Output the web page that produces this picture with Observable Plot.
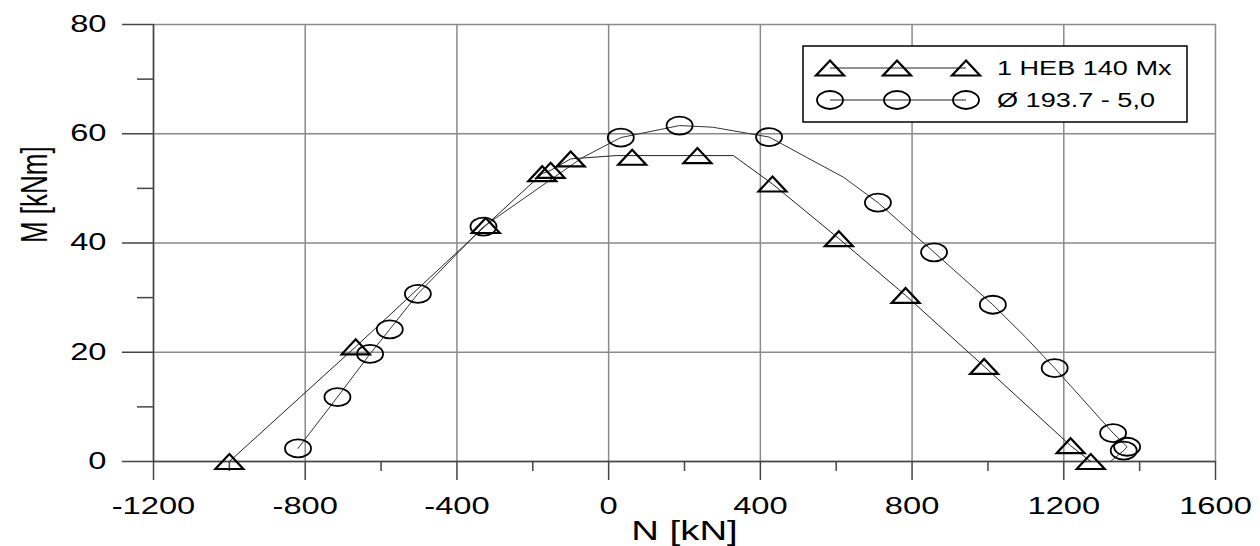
<!DOCTYPE html>
<html>
<head>
<meta charset="utf-8">
<script src="https://cdn.jsdelivr.net/npm/d3@7"></script>
<script src="https://cdn.jsdelivr.net/npm/@observablehq/plot@0.6"></script>
<style>
  html, body { margin: 0; padding: 0; background: #fff; }
  #wrap { position: relative; width: 1260px; height: 546px; font-family: "Liberation Sans", Arial, sans-serif; color: #000; }
  #legend { position: absolute; left: 802px; top: 45px; }
</style>
</head>
<body>
<div id="wrap"></div>
<script>
// ---- axis ticks ----
const xDomain = [-1200, 1600];
const yDomain = [0, 80];
const xTicks = [-1200, -800, -400, 0, 400, 800, 1200, 1600];
const xMinor = [-1000, -600, -200, 200, 600, 1000, 1400];
const yTicks = [0, 20, 40, 60, 80];
const yMinor = [10, 30, 50, 70];
const xGrid = [-800, -400, 0, 400, 800, 1200];
const yGrid = [20, 40, 60];
const xLabel = "N [kN]";
const yLabel = "M [kNm]";
const seriesNames = ["1 HEB 140 Mx", "Ø 193.7 - 5,0"];

// ---- 1 HEB 140 Mx : markers ----
const hebMarkN = [-1000, -667, -324, -175, -153, -100, 62, 234, 432, 607, 783, 990, 1218, 1271];
const hebMarkM = [0, 21.0, 43.2, 52.7, 53.3, 55.4, 55.7, 56.0, 50.8, 40.8, 30.4, 17.4, 2.9, 0];
// ---- 1 HEB 140 Mx : interaction curve ----
const hebLineN = [-1000, -667, -324, -175, -153, -100, 20, 329, 432, 607, 783, 990, 1218, 1271];
const hebLineM = [0, 21.0, 43.2, 52.7, 53.3, 55.4, 56.0, 56.0, 50.8, 40.8, 30.4, 17.4, 2.9, 0];

// ---- Ø 193.7 - 5,0 : markers ----
const tubeMarkN = [-819, -715, -629, -577, -503, -330, 32, 187, 423, 710, 858, 1013, 1176, 1330, 1367, 1358];
const tubeMarkM = [2.4, 11.8, 19.7, 24.2, 30.7, 43.0, 59.3, 61.5, 59.4, 47.4, 38.3, 28.7, 17.1, 5.2, 2.7, 2.0];
// ---- Ø 193.7 - 5,0 : interaction curve ----
const tubeLineN = [-819, -715, -629, -577, -503, -330, -70, 32, 187, 274, 423, 620, 710, 858, 1013, 1100, 1176, 1330, 1367, 1358, 1323];
const tubeLineM = [2.4, 11.8, 19.7, 24.2, 30.7, 43.0, 55.6, 59.3, 61.5, 61.2, 59.4, 52.0, 47.4, 38.3, 28.7, 22.7, 17.1, 5.2, 2.7, 2.0, 0];

const toRows = (N, M) => N.map((n, i) => ({N: n, M: M[i]}));
const hebMarks = toRows(hebMarkN, hebMarkM);
const hebLine = toRows(hebLineN, hebLineM);
const tubeMarks = toRows(tubeMarkN, tubeMarkM);
const tubeLine = toRows(tubeLineN, tubeLineM);

// custom flattened marker shapes (chart is horizontally stretched)
const triangleSym = {
  draw(ctx) {
    ctx.moveTo(0, -7.5);
    ctx.lineTo(14, 7.5);
    ctx.lineTo(-14, 7.5);
    ctx.closePath();
  }
};
const ellipseSym = {
  draw(ctx) {
    const rx = 13, ry = 9, k = 0.5523;
    ctx.moveTo(rx, 0);
    ctx.bezierCurveTo(rx, k * ry, k * rx, ry, 0, ry);
    ctx.bezierCurveTo(-k * rx, ry, -rx, k * ry, -rx, 0);
    ctx.bezierCurveTo(-rx, -k * ry, -k * rx, -ry, 0, -ry);
    ctx.bezierCurveTo(k * rx, -ry, rx, -k * ry, rx, 0);
    ctx.closePath();
  }
};

const axisStroke = "#444";
const gridStroke = "#8a8a8a";
const fmt = d => String(d);

const chart = Plot.plot({
  width: 1260,
  height: 546,
  marginLeft: 153,
  marginRight: 45,
  marginTop: 24,
  marginBottom: 85,
  style: {fontFamily: "'Liberation Sans', Arial, sans-serif", color: "#000", background: "#fff"},
  x: {domain: xDomain, label: null},
  y: {domain: yDomain, label: null},
  marks: [
    Plot.gridX(xGrid, {stroke: gridStroke, strokeOpacity: 1, strokeWidth: 1.5}),
    Plot.gridY(yGrid, {stroke: gridStroke, strokeOpacity: 1, strokeWidth: 1.5}),
    Plot.frame({stroke: gridStroke, strokeWidth: 1.5}),
    Plot.ruleX([xDomain[0]], {stroke: axisStroke, strokeWidth: 1.5}),
    Plot.ruleY([yDomain[0]], {stroke: axisStroke, strokeWidth: 1.5}),
    Plot.axisX({ticks: xTicks, tickSize: 19, tickPadding: 17, fontSize: 23, stroke: axisStroke, strokeWidth: 1.5, tickFormat: fmt, label: null}),
    Plot.axisX({ticks: xMinor, tickSize: 10, text: null, stroke: axisStroke, strokeWidth: 1.5, label: null}),
    Plot.axisY({ticks: yTicks, tickSize: 31, tickPadding: 16, fontSize: 23, stroke: axisStroke, strokeWidth: 1.5, tickFormat: fmt, label: null}),
    Plot.axisY({ticks: yMinor, tickSize: 16, text: null, stroke: axisStroke, strokeWidth: 1.5, label: null}),
    Plot.line(hebLine, {x: "N", y: "M", stroke: "#222", strokeWidth: 1}),
    Plot.line(tubeLine, {x: "N", y: "M", stroke: "#333", strokeWidth: 1}),
    Plot.dot(hebMarks, {x: "N", y: "M", symbol: triangleSym, r: 5, fill: "none", stroke: "#000", strokeWidth: 2.2}),
    Plot.dot(tubeMarks, {x: "N", y: "M", symbol: ellipseSym, r: 5, fill: "none", stroke: "#000", strokeWidth: 1.8}),
    Plot.text([xLabel], {text: d => d, frameAnchor: "bottom", dy: 70, fontSize: 27, lineAnchor: "middle", fill: "#000"}),
    Plot.text([yLabel], {text: d => d, frameAnchor: "left", dx: -118, rotate: -90, fontSize: 26, lineAnchor: "middle", fill: "#000"})
  ]
});

const wrap = document.getElementById("wrap");
wrap.appendChild(chart);

// horizontal stretch of all glyphs, as in the reference picture
const STRETCH = 1.42;
chart.querySelectorAll("text").forEach(t => {
  const tr = t.getAttribute("transform");
  if (!tr) { t.setAttribute("transform", `scale(${STRETCH},1)`); return; }
  if (tr.includes("rotate")) t.setAttribute("transform", tr.replace("rotate", `scale(${STRETCH},1) rotate`));
  else t.setAttribute("transform", `${tr} scale(${STRETCH},1)`);
});

// ---- legend (overlay box, top right) ----
const lw = 386, lh = 78;
const leg = d3.select(wrap).append("svg")
  .attr("id", "legend")
  .attr("width", lw).attr("height", lh)
  .style("font-family", "'Liberation Sans', Arial, sans-serif");
leg.append("rect").attr("x", 1).attr("y", 1).attr("width", lw - 2).attr("height", lh - 2)
  .attr("fill", "#fff").attr("stroke", "#000").attr("stroke-width", 1.5);
const legendRows = [
  {name: seriesNames[0], sym: triangleSym, sw: 2.2, y: 23},
  {name: seriesNames[1], sym: ellipseSym, sw: 1.8, y: 55}
];
const legendXs = [28, 95, 164];
legendRows.forEach(row => {
  leg.append("line").attr("x1", legendXs[0]).attr("x2", legendXs[2]).attr("y1", row.y).attr("y2", row.y)
    .attr("stroke", "#222").attr("stroke-width", 1);
  const p = d3.symbol().type(row.sym)();
  legendXs.forEach(x => {
    leg.append("path").attr("d", p).attr("transform", `translate(${x},${row.y})`)
      .attr("fill", "none").attr("stroke", "#000").attr("stroke-width", row.sw);
  });
  leg.append("text").text(row.name)
    .attr("transform", `translate(195,${row.y}) scale(1.29,1)`)
    .attr("dy", "0.35em")
    .attr("font-size", 21)
    .attr("fill", "#000");
});
</script>
</body>
</html>
